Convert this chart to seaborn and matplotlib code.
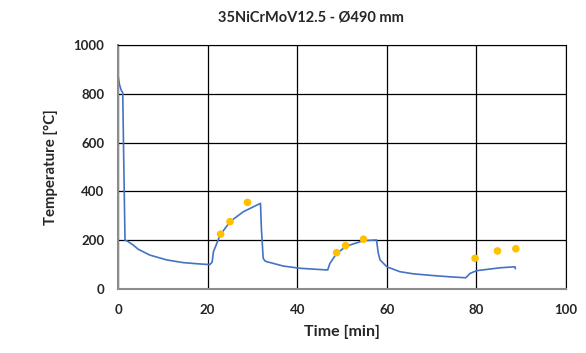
import matplotlib
matplotlib.use("Agg")
import matplotlib.pyplot as plt
import seaborn as sns
import pandas as pd

# simulated surface temperature curve
time_sim = [0.0, 0.3, 0.7, 1.05, 1.3, 1.56, 2.2, 3.4, 4.5, 7.1, 10.9, 14.6, 18.0, 20.5,
            21.0, 21.3, 22.8, 25.0, 28.0, 31.8,
            32.0, 32.4, 32.8, 33.2, 36.9, 40.6, 44.0, 46.8,
            47.3, 48.8, 51.0, 54.8, 57.7,
            58.1, 58.5, 60.0, 62.9, 66.0, 70.4, 74.0, 77.6,
            78.6, 80.0, 85.3, 88.6, 88.7]
temp_sim = [875, 840, 815, 805, 500, 200, 195, 180, 163, 139, 119, 108, 103, 100,
            110, 153, 221, 276, 317, 351,
            250, 126, 115, 112, 94, 85, 81, 78,
            105, 146, 176, 198, 201,
            146, 119, 91, 71, 62, 55, 50, 46,
            64, 75, 87, 91, 83]

# measured points
time_meas = [22.9, 25.0, 28.9, 48.8, 50.8, 54.8, 79.7, 84.7, 88.8]
temp_meas = [225, 276, 355, 149, 178, 204, 126, 156, 165]

sim = pd.DataFrame({"t": time_sim, "T": temp_sim})
meas = pd.DataFrame({"t": time_meas, "T": temp_meas})

sns.set_style("white")
plt.rcParams["font.family"] = ["Lato", "DejaVu Sans"]

fig = plt.figure(figsize=(5.86, 3.53), dpi=100)
ax = fig.add_axes([0.2014, 0.1813, 0.7645, 0.6912])

sns.lineplot(data=sim, x="t", y="T", ax=ax, color="#4472C4", linewidth=1.2,
             sort=False, estimator=None)
sns.scatterplot(data=meas, x="t", y="T", ax=ax, color="#FFC000", s=30,
                edgecolor="none", zorder=3)

ax.set_xlim(0, 100)
ax.set_ylim(0, 1000)
ax.set_xticks(range(0, 101, 20))
ax.set_yticks(range(0, 1001, 200))
ax.grid(True, color="black", linewidth=0.9)
ax.set_axisbelow(True)
for side in ["top", "right"]:
    ax.spines[side].set_color("black")
for side in ["left", "bottom"]:
    ax.spines[side].set_color("#8c8c8c")
    ax.spines[side].set_linewidth(1.5)
ax.tick_params(axis="y", length=0, pad=10, labelsize=9.5)
ax.tick_params(axis="x", length=0, pad=11, labelsize=9.5)
for lbl in ax.get_xticklabels() + ax.get_yticklabels():
    lbl.set_fontweight("bold")

ax.set_xlabel("Time [min]", fontsize=11.5, fontweight="bold", labelpad=6)
ax.set_ylabel("Temperature [°C]", fontsize=10.8, fontweight="bold", labelpad=11)
fig.text(311 / 586, 1 - 18 / 353, "35NiCrMoV12.5 - Ø490 mm", ha="center", va="center",
         fontsize=10.5, fontweight="bold")

fig.savefig("out.png", dpi=100)
